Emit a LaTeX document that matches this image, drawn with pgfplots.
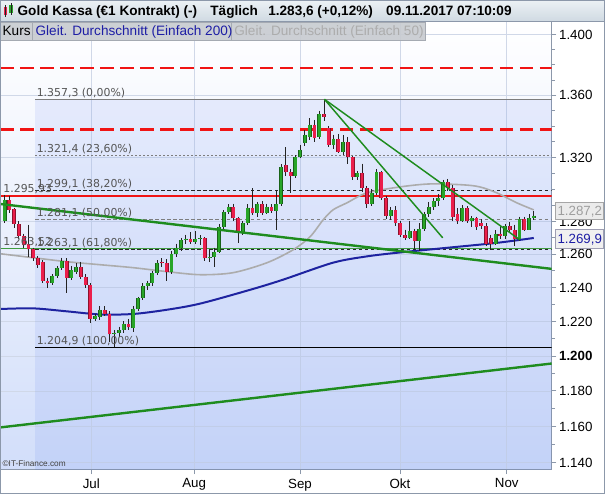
\documentclass[border=0pt]{standalone}
\usepackage{pgfplots}
\pgfplotsset{compat=1.18}
\usepackage{pgfplotstable}
\usepackage{fontspec}
\setmainfont{Liberation Sans}
\newfontfamily\dejavu{DejaVu Sans}
\definecolor{candup}{RGB}{40,165,40}
\definecolor{canddn}{RGB}{235,30,75}
\definecolor{wickc}{RGB}{35,35,35}
\definecolor{trendg}{RGB}{30,140,30}
\definecolor{ma200}{RGB}{30,35,160}
\definecolor{ma50}{RGB}{172,172,172}
\definecolor{fibtxt}{RGB}{85,85,85}
\definecolor{fibgray}{RGB}{125,125,125}
\definecolor{redl}{RGB}{240,20,20}
\definecolor{bgbot}{RGB}{210,222,250}
\definecolor{fibfill}{RGB}{70,110,235}
\definecolor{gridc}{RGB}{208,216,232}
\definecolor{axln}{RGB}{140,152,170}
\definecolor{hdtop}{RGB}{236,241,245}
\definecolor{hdbot}{RGB}{208,218,226}
\definecolor{legbg}{RGB}{200,204,209}
\definecolor{legbd}{RGB}{165,170,178}
\definecolor{legblue}{RGB}{30,30,165}
\definecolor{leggray}{RGB}{172,172,172}

\pgfplotstableread{
i O H L C
-18 1.2800 1.2965 1.2790 1.2933
-8 1.2425 1.2480 1.2415 1.2470
-7 1.2470 1.2530 1.2460 1.2520
-6 1.2520 1.2580 1.2505 1.2560
-4 1.2460 1.2530 1.2445 1.2505
-3 1.2495 1.2545 1.2480 1.2525
1 1.2215 1.2245 1.2200 1.2230
2 1.2225 1.2290 1.2210 1.2268
5 1.2125 1.2150 1.2049 1.2135
6 1.2135 1.2170 1.2110 1.2150
7 1.2150 1.2200 1.2130 1.2185
9 1.2160 1.2290 1.2140 1.2275
10 1.2275 1.2345 1.2260 1.2335
11 1.2335 1.2425 1.2325 1.2410
12 1.2410 1.2440 1.2385 1.2425
13 1.2425 1.2500 1.2410 1.2485
14 1.2485 1.2565 1.2475 1.2550
17 1.2490 1.2620 1.2480 1.2600
18 1.2600 1.2665 1.2585 1.2640
19 1.2640 1.2700 1.2620 1.2685
20 1.2685 1.2720 1.2660 1.2695
22 1.2675 1.2740 1.2660 1.2690
23 1.2690 1.2715 1.2655 1.2698
25 1.2575 1.2625 1.2555 1.2582
26 1.2582 1.2640 1.2525 1.2615
27 1.2615 1.2785 1.2605 1.2765
28 1.2765 1.2870 1.2755 1.2860
29 1.2860 1.2905 1.2845 1.2890
32 1.2735 1.2800 1.2720 1.2790
33 1.2790 1.2905 1.2780 1.2885
35 1.2850 1.2920 1.2830 1.2910
37 1.2855 1.2910 1.2845 1.2890
39 1.2865 1.2990 1.2750 1.2905
40 1.2905 1.3155 1.2895 1.3140
43 1.3085 1.3215 1.3070 1.3205
44 1.3205 1.3280 1.3195 1.3250
45 1.3290 1.3375 1.3270 1.3345
46 1.3330 1.3450 1.3310 1.3410
48 1.3330 1.3500 1.3315 1.3475
51 1.3280 1.3345 1.3255 1.3320
53 1.3235 1.3340 1.3215 1.3295
56 1.3075 1.3115 1.3055 1.3100
59 1.2905 1.3000 1.2895 1.2975
60 1.2975 1.3125 1.2965 1.3105
63 1.2835 1.2890 1.2810 1.2870
67 1.2700 1.2800 1.2690 1.2740
69 1.2680 1.2790 1.2620 1.2755
70 1.2755 1.2860 1.2740 1.2845
71 1.2845 1.2920 1.2830 1.2890
72 1.2890 1.2945 1.2870 1.2925
73 1.2925 1.2970 1.2895 1.2945
74 1.2945 1.3060 1.2935 1.3045
78 1.2800 1.2900 1.2795 1.2885
80 1.2800 1.2835 1.2765 1.2820
85 1.2665 1.2745 1.2655 1.2725
87 1.2710 1.2785 1.2690 1.2770
90 1.2690 1.2830 1.2680 1.2815
92 1.2750 1.2845 1.2745 1.2820
93 1.2820 1.2865 1.2810 1.2836
}\upc

\pgfplotstableread{
i O H L C
-17 1.2933 1.2960 1.2855 1.2870
-16 1.2875 1.2885 1.2760 1.2785
-15 1.2785 1.2800 1.2690 1.2710
-14 1.2710 1.2725 1.2640 1.2655
-13 1.2660 1.2780 1.2585 1.2630
-12 1.2630 1.2640 1.2560 1.2575
-11 1.2575 1.2590 1.2520 1.2535
-10 1.2555 1.2565 1.2430 1.2440
-9 1.2440 1.2460 1.2400 1.2425
-5 1.2560 1.2575 1.2365 1.2460
-2 1.2525 1.2555 1.2450 1.2465
-1 1.2465 1.2480 1.2400 1.2415
0 1.2415 1.2425 1.2190 1.2215
3 1.2268 1.2290 1.2230 1.2245
4 1.2245 1.2260 1.2080 1.2125
8 1.2185 1.2215 1.2150 1.2165
15 1.2555 1.2575 1.2525 1.2545
16 1.2545 1.2570 1.2440 1.2490
21 1.2695 1.2735 1.2665 1.2675
24 1.2698 1.2705 1.2560 1.2575
30 1.2890 1.2910 1.2800 1.2820
31 1.2820 1.2830 1.2670 1.2735
34 1.2885 1.3005 1.2840 1.2850
36 1.2910 1.2925 1.2840 1.2855
38 1.2890 1.2905 1.2850 1.2865
41 1.3150 1.3265 1.3085 1.3105
42 1.3105 1.3125 1.2975 1.3085
47 1.3410 1.3440 1.3300 1.3325
49 1.3480 1.3573 1.3435 1.3460
50 1.3390 1.3400 1.3265 1.3280
52 1.3320 1.3350 1.3225 1.3235
54 1.3295 1.3330 1.3155 1.3205
55 1.3200 1.3210 1.3060 1.3075
57 1.3100 1.3160 1.2985 1.3010
58 1.3010 1.3020 1.2880 1.2905
61 1.3105 1.3115 1.2935 1.2945
62 1.2945 1.2955 1.2815 1.2835
64 1.2870 1.2895 1.2770 1.2790
65 1.2790 1.2800 1.2705 1.2720
66 1.2720 1.2750 1.2685 1.2700
68 1.2740 1.2755 1.2625 1.2680
75 1.3045 1.3065 1.2990 1.3010
76 1.3010 1.3025 1.2805 1.2830
77 1.2845 1.2880 1.2785 1.2800
79 1.2885 1.2895 1.2790 1.2800
81 1.2820 1.2830 1.2745 1.2765
82 1.2790 1.2815 1.2755 1.2775
83 1.2775 1.2790 1.2650 1.2665
84 1.2700 1.2720 1.2625 1.2665
86 1.2725 1.2770 1.2690 1.2710
88 1.2770 1.2795 1.2730 1.2745
89 1.2745 1.2780 1.2650 1.2690
91 1.2815 1.2830 1.2740 1.2750
}\dnc

\begin{document}
\begin{tikzpicture}
\begin{scope}[x=0.75pt,y=-0.75pt]
\fill[white] (0,0) rectangle (605,494);
\end{scope}
\begin{axis}[
  at={(0pt,-15.75pt)}, anchor=north west,
  scale only axis, width=414pt, height=336.75pt,
  xmin=-18.88, xmax=96.77,
  ymode=log, ymin=1.13631, ymax=1.40923,
  axis background/.style={top color=white, bottom color=bgbot},
  axis line style={draw=axln, line width=0.6pt},
  tick style={draw=axln, line width=0.6pt},
  tick align=outside, major tick length=3.5pt, minor tick length=2.2pt,
  xtick pos=left, ytick pos=right, yticklabel pos=right,
  xtick={0.19,21.77,43.97,64.93,87.34},
  xticklabels={Jul,Aug,Sep,Okt,Nov},
  ytick={1.14,1.16,1.18,1.2,1.22,1.24,1.26,1.28,1.32,1.36,1.4},
  yticklabels={1.140,1.160,1.180,\textbf{1.200},1.220,1.240,1.260,1.280,1.320,1.360,1.400},
  minor ytick={1.15,1.17,1.19,1.21,1.23,1.25,1.27,1.29,1.30,1.31,1.33,1.34,1.35,1.37,1.38,1.39},
  ticklabel style={font=\fontsize{10}{12}\selectfont, text=black},
  yticklabel style={anchor=west, xshift=-1.5pt},
  grid=major, major grid style={draw=gridc, line width=0.5pt},
  candle/.style={draw=none, no markers, error bars/y explicit, error bars/error mark=none},
]
% Fibonacci area
\addplot[draw=none, fill=fibfill, fill opacity=0.10] coordinates {(-11.54,1.3573) (96.77,1.3573) (96.77,1.13) (-11.54,1.13)} -- cycle;
% Fibonacci lines
\addplot[fibgray, line width=1.1pt] coordinates {(-11.54,1.3573) (96.77,1.3573)};
\addplot[fibgray, line width=0.8pt, dash pattern=on 1.4pt off 1.6pt] coordinates {(-11.54,1.3214) (96.77,1.3214)};
\addplot[black!85, line width=0.6pt, dash pattern=on 2.5pt off 2pt] coordinates {(-11.54,1.2991) (96.77,1.2991)};
\addplot[fibgray, line width=0.8pt, dash pattern=on 2.5pt off 2pt] coordinates {(-11.54,1.2811) (96.77,1.2811)};
\addplot[black!85, line width=0.6pt, dash pattern=on 2.5pt off 2pt] coordinates {(-11.54,1.2631) (96.77,1.2631)};
\addplot[black, line width=0.7pt] coordinates {(-11.54,1.2049) (96.77,1.2049)};
% horizontal lines
\addplot[redl, line width=2pt, dash pattern=on 10pt off 5pt] coordinates {(-18.88,1.3778) (96.77,1.3778)};
\addplot[redl, line width=2pt, dash pattern=on 10pt off 5pt] coordinates {(-18.88,1.3379) (96.77,1.3379)};
\addplot[redl, line width=1.4pt] coordinates {(-18.88,1.2959) (96.77,1.2959)};
\addplot[trendg!85!white, line width=1.3pt] coordinates {(-18.88,1.2635) (96.77,1.2635)};
% moving averages
\addplot[ma50, line width=1.2pt, smooth] coordinates {
(-18.88,1.2603) (-11.96,1.2579) (-4.84,1.2555) (2.07,1.2537) (8.99,1.2519) (16.11,1.2495)
(23.03,1.2477) (29.94,1.2489) (37.06,1.2549) (42.51,1.2627) (46.07,1.2706) (48.79,1.2809)
(50.89,1.2871) (53.82,1.2915) (58.01,1.2977) (64.93,1.3014) (71.21,1.3033) (78.13,1.3027)
(81.69,1.3014) (85.25,1.2977) (89.44,1.2915) (93,1.2871)};
\addplot[ma200, line width=1.5pt, smooth] coordinates {
(-18.88,1.2273) (-11.96,1.2277) (-4.84,1.2259) (2.07,1.2241) (8.99,1.2244) (16.11,1.2269)
(23.03,1.2305) (33.5,1.2387) (40.42,1.2447) (50.89,1.2549) (58.01,1.2587) (64.93,1.2611)
(74.78,1.2639) (85.25,1.2669) (93,1.2699)};
% wicks
\addplot[candle, error bars/y dir=minus, error bars/error bar style={draw=wickc, line width=0.7pt}]
  table[x=i, y=H, y error minus expr={\thisrow{H}-\thisrow{L}}] {\upc};
\addplot[candle, error bars/y dir=minus, error bars/error bar style={draw=wickc, line width=0.7pt}]
  table[x=i, y=H, y error minus expr={\thisrow{H}-\thisrow{L}}] {\dnc};
% bodies
\addplot[candle, error bars/y dir=minus, error bars/error bar style={draw=candup!60!black, line width=2.9pt}]
  table[x=i, y=C, y error minus expr={\thisrow{C}-\thisrow{O}}] {\upc};
\addplot[candle, error bars/y dir=minus, error bars/error bar style={draw=candup, line width=2.0pt}]
  table[x=i, y=C, y error minus expr={\thisrow{C}-\thisrow{O}}] {\upc};
\addplot[candle, error bars/y dir=plus, error bars/error bar style={draw=canddn!60!black, line width=2.9pt}]
  table[x=i, y=C, y error plus expr={\thisrow{O}-\thisrow{C}}] {\dnc};
\addplot[candle, error bars/y dir=plus, error bars/error bar style={draw=canddn, line width=2.0pt}]
  table[x=i, y=C, y error plus expr={\thisrow{O}-\thisrow{C}}] {\dnc};
% trend lines
\addplot[trendg, line width=1.8pt] coordinates {(-18.88,1.2908) (96.77,1.2512)};
\addplot[trendg, line width=1.8pt] coordinates {(-18.88,1.1595) (96.77,1.1956)};
\addplot[trendg, line width=1.1pt] coordinates {(49.1,1.3573) (73.9,1.2700)};
\addplot[trendg, line width=1.1pt] coordinates {(49.1,1.3573) (90.07,1.2688)};
% labels
\begin{scope}[every node/.style={anchor=base west, inner sep=0pt, text=fibtxt, font=\dejavu\fontsize{8.2}{10}\selectfont}]
\node at (axis cs:-11.3,1.3573) [yshift=2.3pt] {1.357,3 (0,00\%)};
\node at (axis cs:-11.3,1.3214) [yshift=2.3pt] {1.321,4 (23,60\%)};
\node at (axis cs:-11.3,1.2991) [yshift=2.3pt] {1.299,1 (38,20\%)};
\node at (axis cs:-11.3,1.2811) [yshift=2.3pt] {1.281,1 (50,00\%)};
\node at (axis cs:-11.3,1.2631) [yshift=2.3pt] {1.263,1 (61,80\%)};
\node at (axis cs:-11.3,1.2049) [yshift=2.3pt] {1.204,9 (100,00\%)};
\node at (axis cs:-18.3,1.2959) [yshift=2.3pt] {1.295,93};
\node at (axis cs:-18.3,1.2635) [yshift=2.3pt] {1.263,52};
\end{scope}
\end{axis}
\begin{scope}[x=0.75pt,y=-0.75pt]
% title bar
\shade[top color=hdtop, bottom color=hdbot] (0,0) rectangle (605,21);
\draw[axln, line width=0.5pt] (0,21) -- (605,21);
\fill[canddn] (3.5,7) rectangle (7,15);
\draw[wickc, line width=0.4pt] (5.25,5) -- (5.25,17);
\fill[candup] (9,4.5) rectangle (12.5,12.5);
\draw[wickc, line width=0.4pt] (10.75,3) -- (10.75,15);
\begin{scope}[every node/.style={anchor=base west, inner sep=0pt, font=\bfseries\fontsize{10.2}{12}\selectfont}]
\node at (17,15) {Gold Kassa (€1 Kontrakt) (-)};
\node at (210,15) {Täglich};
\node at (268,15) {1.283,6 (+0,12\%)};
\node at (386,15) {09.11.2017 07:10:09};
\end{scope}
% legend bar
\fill[legbg, fill opacity=0.92] (0,22) rectangle (425,40);
\draw[legbd, line width=0.5pt] (0.3,22) rectangle (32,40);
\draw[legbd, line width=0.5pt] (32,22) rectangle (231,40);
\draw[legbd, line width=0.5pt] (231,22) rectangle (425,40);
\begin{scope}[every node/.style={anchor=base west, inner sep=0pt, font=\fontsize{10.2}{12}\selectfont}]
\node at (2,35.5) {Kurs};
\node[text=legblue] at (35,35.5) {Gleit. Durchschnitt (Einfach 200)};
\node[text=leggray] at (234,35.5) {Gleit. Durchschnitt (Einfach 50)};
\end{scope}
% value boxes
\draw[fill=black!8, draw=black!35, line width=0.5pt] (555.5,202) rectangle (603.5,219.5);
\node[anchor=base west, inner sep=0pt, text=black!38, font=\fontsize{10}{12}\selectfont] at (557.5,215.5) {1.287,2};
\draw[fill=blue!4!black!6, draw=legblue!40!black!40, line width=0.5pt] (555.5,230) rectangle (604,248.5);
\node[anchor=base west, inner sep=0pt, text=legblue, font=\fontsize{10}{12}\selectfont] at (557.5,244) {1.269,9};
% copyright
\node[anchor=base west, inner sep=0pt, text=black!75, font=\fontsize{6.2}{7}\selectfont] at (2,467) {©IT-Finance.com};
% frame
\draw[axln, line width=0.75pt] (0.4,0.4) rectangle (604.6,493.6);
\end{scope}
\end{tikzpicture}
\end{document}
